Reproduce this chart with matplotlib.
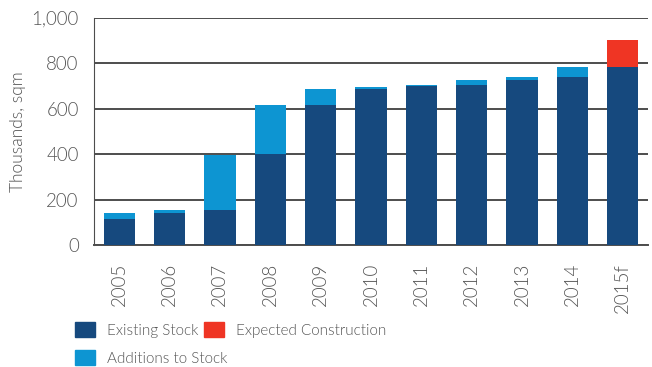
import numpy as np
import matplotlib.pyplot as plt
from matplotlib.patches import Patch

years = ['2005', '2006', '2007', '2008', '2009', '2010', '2011', '2012', '2013', '2014', '2015f']
existing = [115, 141, 154, 400, 618, 688, 701, 706, 728, 741, 785]
additions = [26, 13, 243, 218, 70, 9, 5, 22, 13, 44, 0]
expected = [0, 0, 0, 0, 0, 0, 0, 0, 0, 0, 119]

c_exist = '#16497e'
c_add = '#0d95d2'
c_exp = '#ef3524'
grey = '#555555'

plt.rcParams['font.family'] = ['Lato', 'DejaVu Sans']
plt.rcParams['font.weight'] = 300
plt.rcParams['axes.labelweight'] = 300

fig = plt.figure(figsize=(6.52, 3.67), dpi=100)
ax = fig.add_axes([94/652, 1-245/367, 554/652, 227/367])

index = np.arange(len(years))
w = 0.62
ax.bar(index, existing, w, color=c_exist, zorder=3)
ax.bar(index, additions, w, bottom=existing, color=c_add, zorder=3)
bottom2 = np.array(existing) + np.array(additions)
ax.bar(index, expected, w, bottom=bottom2, color=c_exp, zorder=3)

ax.set_xlim(-0.5, 10.5)
ax.set_ylim(0, 1000)
ax.set_yticks(range(0, 1001, 200))
ax.set_yticklabels(['0', '200', '400', '600', '800', '1,000'])
ax.set_xticks(index)
ax.set_xticklabels(years, rotation=90)
ax.grid(axis='y', color='#4d4d4d', linewidth=1.4, zorder=0)
for s in ['top', 'right']:
    ax.spines[s].set_visible(False)
ax.spines['left'].set_color('#4d4d4d')
ax.spines['bottom'].set_color('#4d4d4d')
ax.spines['bottom'].set_linewidth(1.4)
ax.tick_params(length=0, labelsize=13.5, colors=grey)
ax.tick_params(axis='y', pad=11)
ax.tick_params(axis='x', pad=13)
ax.set_ylabel('Thousands, sqm', fontsize=12.5, color=grey, labelpad=4, weight=300)

h_exist = Patch(color=c_exist, label='Existing Stock')
h_add = Patch(color=c_add, label='Additions to Stock')
h_exp = Patch(color=c_exp, label='Expected Construction')
kw = dict(loc='upper left', frameon=False, fontsize=11, labelcolor=grey,
          handlelength=1.3, handleheight=1.15, handletextpad=0.8,
          labelspacing=0.82, borderaxespad=0, borderpad=0)
leg1 = fig.legend(handles=[h_exist, h_add], bbox_to_anchor=(75/652, 1-322/367), **kw)
leg2 = fig.legend(handles=[h_exp], bbox_to_anchor=(204/652, 1-322/367), **kw)

fig.savefig('out.png', dpi=100)
